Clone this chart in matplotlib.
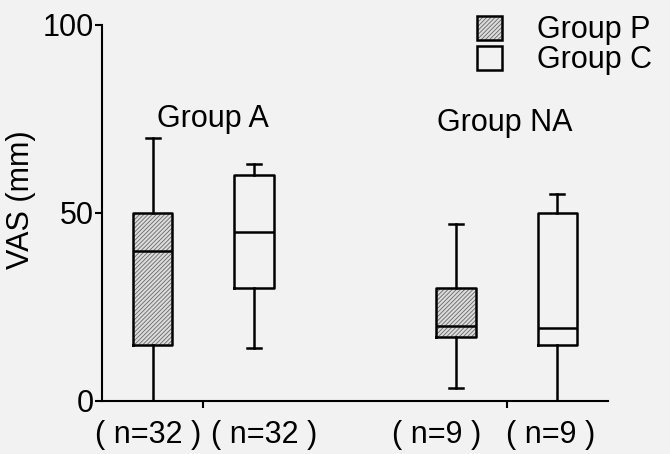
import matplotlib
matplotlib.use('Agg')
import matplotlib.pyplot as plt
from matplotlib.patches import Patch

plt.rcParams['font.family'] = ['Liberation Sans', 'DejaVu Sans']
plt.rcParams['hatch.linewidth'] = 0.6

# Box summaries (VAS, mm)
groups = ['Group A', 'Group NA']
series = ['Group P', 'Group C']
whislo = [0, 14, 3.5, 0]
q1 = [15, 30, 17, 15]
med = [40, 45, 20, 19.5]
q3 = [50, 60, 30, 50]
whishi = [70, 63, 47, 55]
hatched = [True, False, True, False]
n_labels = ['( n=32 )', '( n=32 )', '( n=9 )', '( n=9 )']
positions = [1, 3, 7, 9]

stats = []
for i in range(len(med)):
    stats.append({'whislo': whislo[i], 'q1': q1[i], 'med': med[i],
                  'q3': q3[i], 'whishi': whishi[i], 'fliers': []})

fig = plt.figure(figsize=(6.7, 4.54), dpi=100, facecolor='#f2f2f2')
ax = fig.add_axes([102 / 670, 1 - 401 / 454, 506 / 670, 376 / 454])
ax.set_facecolor('none')

lw = 1.8
hatch_face = '#dcdcdc'
hatch_line = '#666666'

# underlay: hatched fill for group P boxes
p_idx = [i for i in range(len(stats)) if hatched[i]]
ax.bxp([stats[i] for i in p_idx], positions=[positions[i] for i in p_idx],
       widths=0.78, patch_artist=True, showfliers=False,
       boxprops=dict(facecolor=hatch_face, edgecolor=hatch_line, hatch='////////', linewidth=0),
       whiskerprops=dict(linewidth=0), capprops=dict(linewidth=0),
       medianprops=dict(linewidth=0))

# outlines for all boxes
ax.bxp(stats, positions=positions, widths=0.78, capwidths=0.28,
       showfliers=False, patch_artist=False,
       boxprops=dict(color='black', linewidth=lw),
       whiskerprops=dict(color='black', linewidth=lw),
       capprops=dict(color='black', linewidth=lw),
       medianprops=dict(color='black', linewidth=lw))

ax.set_xlim(0, 10)
ax.set_ylim(0, 100)
ax.spines['top'].set_visible(False)
ax.spines['right'].set_visible(False)
ax.spines['left'].set_linewidth(1.5)
ax.spines['bottom'].set_linewidth(1.5)
ax.set_yticks([0, 50, 100])
ax.set_xticks([2, 8])
ax.set_xticklabels([])
ax.tick_params(axis='y', labelsize=22, length=5, width=1.5, pad=1)
ax.tick_params(axis='x', length=5, width=1.5)

ax.set_ylabel('VAS (mm)', fontsize=22)
ax.yaxis.set_label_coords(-0.13, 0.535)

# group titles and n labels
ax.text(2.2, 75, groups[0], fontsize=22, ha='center', va='center')
ax.text(7.95, 74, groups[1], fontsize=22, ha='center', va='center')
n_x = [0.91, 3.2, 6.62, 8.87]
for x, lab in zip(n_x, n_labels):
    ax.text(x, -9, lab, fontsize=22, ha='center', va='center', clip_on=False)

# legend
h_p = (Patch(facecolor=hatch_face, edgecolor=hatch_line, hatch='////////', linewidth=0),
       Patch(facecolor='none', edgecolor='black', linewidth=lw))
h_c = Patch(facecolor='none', edgecolor='black', linewidth=lw)
fig.legend([h_p, h_c], series, loc='upper left', bbox_to_anchor=(0.712, 0.966),
           frameon=False, fontsize=22, handlelength=0.82, handleheight=0.82,
           handletextpad=1.15, labelspacing=0.0, borderpad=0, borderaxespad=0)

fig.savefig('out.png', dpi=100, facecolor=fig.get_facecolor())
